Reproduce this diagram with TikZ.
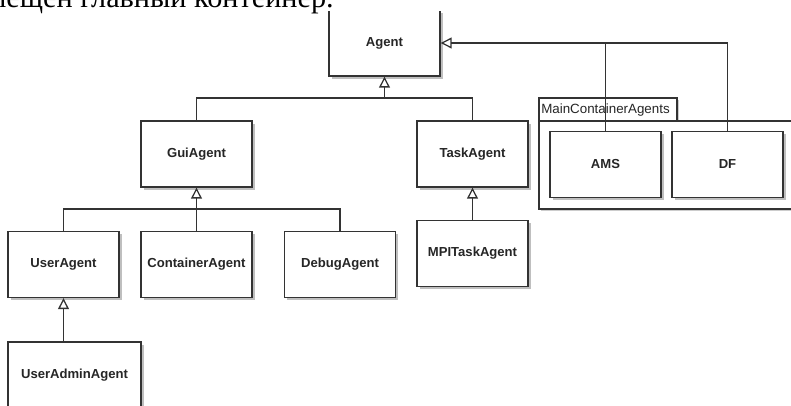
\documentclass[tikz,border=0pt]{standalone}
\usepackage{fontspec}
\setmainfont{Liberation Sans}
\newfontfamily\rusfont{Liberation Serif}
\usetikzlibrary{arrows.meta,shadows}
\tikzset{
agentbox/.style={draw=black!80, line width=1pt, fill=white,
  minimum width=2.775cm, minimum height=1.65cm, inner sep=0pt,
  font=\fontsize{9.3}{11}\selectfont\bfseries, text=black!85,
  drop shadow={shadow xshift=0.07cm, shadow yshift=-0.07cm, fill=black!25, opacity=1}},
pkgframe/.style={draw=black!80, line width=0.9pt, fill=white,
  drop shadow={shadow xshift=0.06cm, shadow yshift=-0.06cm, fill=black!20, opacity=1}},
inherit/.style={draw=black!80, line width=0.9pt,
  -{Triangle[open, fill=white, length=0.27cm, width=0.27cm]}}
}
\begin{document}
\begin{tikzpicture}[x=0.025cm, y=-0.025cm]
\useasboundingbox (0,0) rectangle (791,406);
\clip (0,0) rectangle (791,406);
\draw[pkgframe] (539,98) rectangle (677,121);
\draw[pkgframe] (539,121) rectangle (820,209);
\node[anchor=west, inner sep=0pt, font=\fontsize{9.5}{11}\selectfont, text=black!85] (MainLbl) at (541,110) {MainContainerAgents};
\node[agentbox] (Agent) at (384.5,43) {Agent};
\node[agentbox] (GuiAgent) at (196.5,154) {GuiAgent};
\node[agentbox] (TaskAgent) at (472.5,154) {TaskAgent};
\node[agentbox] (AMS) at (605.5,164.5) {AMS};
\node[agentbox] (DF) at (727.5,164.5) {DF};
\node[agentbox] (UserAgent) at (63.5,264.5) {UserAgent};
\node[agentbox] (ContainerAgent) at (196.5,264.5) {ContainerAgent};
\node[agentbox] (DebugAgent) at (340,264.5) {DebugAgent};
\node[agentbox] (MPITaskAgent) at (472.5,253.5) {MPITaskAgent};
\node[agentbox, minimum width=3.325cm] (UserAdminAgent) at (74.5,375) {UserAdminAgent};
\coordinate (jA) at (384.5,98);
\coordinate (jG) at (196.5,209);
\draw[inherit] (GuiAgent.north) |- (jA) -- (Agent.south);
\draw[inherit, -] (TaskAgent.north) |- (jA);
\draw[inherit] (UserAgent.north) |- (jG) -- (GuiAgent.south);
\draw[inherit, -] (DebugAgent.north) |- (jG);
\draw[inherit, -] (ContainerAgent.north) -- (jG);
\draw[inherit] (UserAdminAgent.north -| UserAgent.south) -- (UserAgent.south);
\draw[inherit] (MPITaskAgent.north) -- (TaskAgent.south);
\draw[inherit] (DF.north) |- (Agent.east);
\draw[inherit, -] (AMS.north) -- (AMS.north |- Agent.east);
\fill[white] (0,0) rectangle (791,11);
\node[anchor=base east, inner sep=0pt, font=\rusfont\fontsize{21.5}{24}\selectfont] (Caption) at (334,7.5) {мещен главный контейнер.};
\end{tikzpicture}
\end{document}
